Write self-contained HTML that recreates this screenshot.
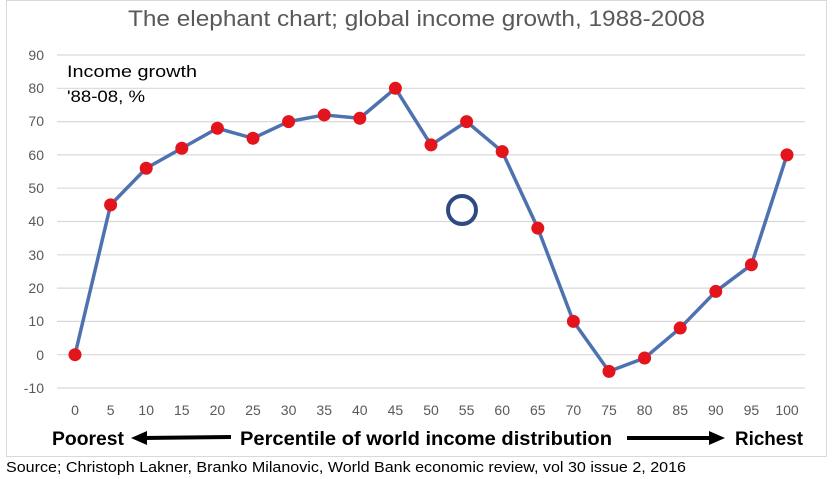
<!DOCTYPE html>
<html><head><meta charset="utf-8"><style>
html,body{margin:0;padding:0;background:#fff;width:832px;height:479px;overflow:hidden}
</style></head><body>
<svg width="832" height="479" viewBox="0 0 832 479" xmlns="http://www.w3.org/2000/svg" font-family="'Liberation Sans', 'DejaVu Sans', sans-serif">
<rect x="6.5" y="0.5" width="820" height="456" fill="#fff" stroke="#d9d9d9"/>
<text x="128" y="26" font-size="22" fill="#595959" textLength="577" lengthAdjust="spacingAndGlyphs">The elephant chart; global income growth, 1988-2008</text>
<g stroke="#d9d9d9" stroke-width="1.2">
<line x1="57" x2="805" y1="55" y2="55"/><line x1="57" x2="805" y1="88.3" y2="88.3"/><line x1="57" x2="805" y1="121.6" y2="121.6"/><line x1="57" x2="805" y1="154.9" y2="154.9"/><line x1="57" x2="805" y1="188.2" y2="188.2"/><line x1="57" x2="805" y1="221.5" y2="221.5"/><line x1="57" x2="805" y1="254.8" y2="254.8"/><line x1="57" x2="805" y1="288.1" y2="288.1"/><line x1="57" x2="805" y1="321.4" y2="321.4"/><line x1="57" x2="805" y1="354.7" y2="354.7"/><line x1="57" x2="805" y1="388" y2="388"/>
</g>
<g font-size="14" fill="#595959" text-anchor="end">
<text x="44" y="60">90</text><text x="44" y="93">80</text><text x="44" y="126">70</text><text x="44" y="160">60</text><text x="44" y="193">50</text><text x="44" y="226">40</text><text x="44" y="260">30</text><text x="44" y="293">20</text><text x="44" y="326">10</text><text x="44" y="360">0</text><text x="44" y="393">-10</text>
</g>
<g font-size="14" fill="#595959" text-anchor="middle" id="xt"></g>
<text x="67" y="77" font-size="17" fill="#000" textLength="130" lengthAdjust="spacingAndGlyphs">Income growth</text>
<text x="67" y="102" font-size="17" fill="#000" textLength="78" lengthAdjust="spacingAndGlyphs">'88-08, %</text>
<polyline id="ln" fill="none" stroke="#4e72b0" stroke-width="3.5" stroke-linejoin="round"/>
<g id="pts" fill="#e3141b"></g>
<circle cx="462" cy="210" r="14" fill="none" stroke="#2e4a82" stroke-width="4"/>
<g font-size="19" font-weight="bold" fill="#000">
<text x="52" y="445" textLength="72" lengthAdjust="spacingAndGlyphs">Poorest</text>
<text x="240" y="445" textLength="372" lengthAdjust="spacingAndGlyphs">Percentile of world income distribution</text>
<text x="735" y="445" textLength="68" lengthAdjust="spacingAndGlyphs">Richest</text>
</g>
<line x1="142" y1="438" x2="231" y2="437" stroke="#000" stroke-width="4"/>
<polygon points="131,438 147,431 147,445" fill="#000"/>
<line x1="627" y1="438" x2="712" y2="438" stroke="#000" stroke-width="4"/>
<polygon points="725,438 709,431 709,445" fill="#000"/>
<text x="6" y="472" font-size="15" fill="#000" textLength="680" lengthAdjust="spacingAndGlyphs">Source; Christoph Lakner, Branko Milanovic, World Bank economic review, vol 30 issue 2, 2016</text>
<script>
var d=[0,45,56,62,68,65,70,72,71,80,63,70,61,38,10,-5,-1,8,19,27,60];
var ns="http://www.w3.org/2000/svg",p=[],g=document.getElementById('pts'),xt=document.getElementById('xt');
d.forEach(function(v,i){var x=75+i*35.6,y=354.7-v*3.33;p.push(x+','+y);
var c=document.createElementNS(ns,'circle');c.setAttribute('cx',x);c.setAttribute('cy',y);c.setAttribute('r',6.5);g.appendChild(c);
var t=document.createElementNS(ns,'text');t.setAttribute('x',x);t.setAttribute('y',415);t.textContent=i*5;xt.appendChild(t);});
document.getElementById('ln').setAttribute('points',p.join(' '));
</script>
</svg>
</body></html>
